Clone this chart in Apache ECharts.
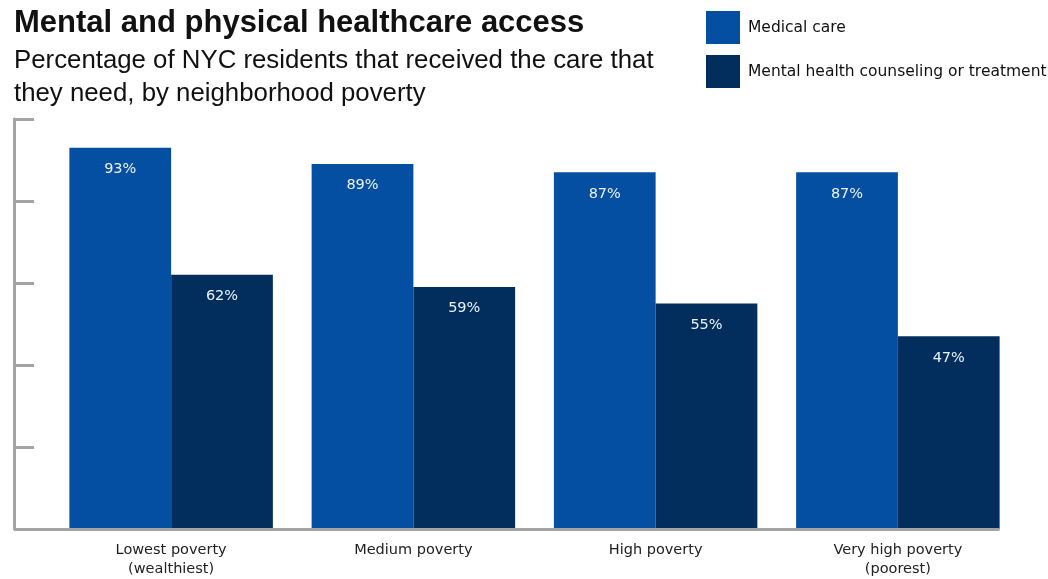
<!DOCTYPE html>
<html>
<head>
<meta charset="utf-8">
<script src="https://cdn.jsdelivr.net/npm/echarts@6/dist/echarts.min.js"></script>
<style>html,body{margin:0;padding:0;background:#fff}#c{width:1048px;height:579px}</style>
</head>
<body>
<div id="c"></div>
<script>
var categories = ['Lowest poverty\n(wealthiest)', 'Medium poverty', 'High poverty', 'Very high poverty\n(poorest)'];
var seriesNames = ['Medical care', 'Mental health counseling or treatment'];
var medicalCare = [93, 89, 87, 87];
var mentalHealth = [62, 59, 55, 47];
var yTicks = [0, 20, 40, 60, 80, 100];

var chart = echarts.init(document.getElementById('c'));
var font = 'Liberation Sans, Arial, Helvetica, sans-serif';
var wide = 'DejaVu Sans, Verdana, sans-serif';
var labelCfg = {
  show: true, position: 'insideTop', distance: 14,
  color: '#eef2f8', fontSize: 14.5, fontFamily: wide,
  formatter: function (p) { return p.value + '%'; }
};
chart.setOption({
  animation: false,
  title: {
    left: 9, top: 3,
    text: 'Mental and physical healthcare access',
    subtext: 'Percentage of NYC residents that received the care that\nthey need, by neighborhood poverty',
    itemGap: 5,
    textStyle: { fontFamily: font, fontWeight: 'bold', fontSize: 31, color: '#111' },
    subtextStyle: { fontFamily: font, fontSize: 25.8, color: '#111', lineHeight: 33 }
  },
  legend: {
    orient: 'vertical', left: 701, top: 6,
    itemWidth: 34, itemHeight: 33, itemGap: 11,
    icon: 'rect',
    data: seriesNames,
    textStyle: { fontFamily: wide, fontSize: 15.5, color: '#111', padding: [2, 0, 0, 3] }
  },
  grid: { left: 50, right: 29, top: 119, bottom: 44, containLabel: false },
  xAxis: {
    type: 'category', data: categories,
    axisLine: { show: false },
    axisTick: { show: false },
    axisLabel: { fontFamily: wide, fontSize: 14.5, color: '#222', margin: 12, lineHeight: 19 }
  },
  yAxis: {
    type: 'value', min: yTicks[0], max: yTicks[yTicks.length - 1], interval: 20,
    offset: 36,
    axisLine: { show: true, lineStyle: { color: '#a3a3a5', width: 3 } },
    axisTick: { show: true, inside: true, length: 20, lineStyle: { color: '#a3a3a5', width: 3 } },
    axisLabel: { show: false },
    splitLine: { show: false }
  },
  series: [
    { name: seriesNames[0], type: 'bar', data: medicalCare, barGap: '0%', barCategoryGap: '16%',
      itemStyle: { color: '#044fa2' }, label: labelCfg },
    { name: seriesNames[1], type: 'bar', data: mentalHealth, barGap: '0%', barCategoryGap: '16%',
      itemStyle: { color: '#022e5e' }, label: labelCfg }
  ]
});

// baseline of the x axis, from the y-axis line to the right edge of the last bar
var y0 = chart.convertToPixel({ yAxisIndex: 0 }, 0);
var lastBar = chart.getModel().getSeriesByIndex(1).getData().getItemLayout(categories.length - 1);
var xEnd = lastBar.x + lastBar.width;
chart.setOption({
  graphic: [{
    type: 'line', z: 10,
    shape: { x1: 14, y1: y0 + 0.5, x2: xEnd, y2: y0 + 0.5 },
    style: { stroke: '#a3a3a5', lineWidth: 3 }
  }]
});
</script>
</body>
</html>
